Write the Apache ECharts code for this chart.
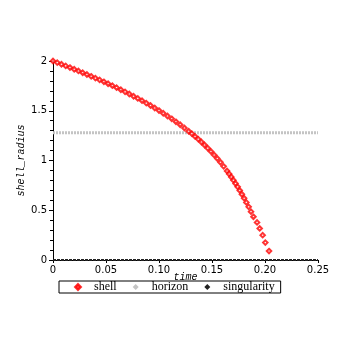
<!DOCTYPE html>
<html>
<head>
<meta charset="utf-8">
<script src="https://cdn.jsdelivr.net/npm/echarts@6/dist/echarts.min.js"></script>
<style>html,body{margin:0;padding:0;background:#fff;}#c{width:354px;height:354px;}</style>
</head>
<body>
<div id="c"></div>
<script>
const shellTime = [0.000,0.004,0.008,0.012,0.016,0.020,0.024,0.028,0.032,0.036,0.040,0.044,0.048,0.052,0.056,0.060,0.064,0.068,0.072,0.076,0.080,0.084,0.088,0.092,0.096,0.100,0.104,0.108,0.112,0.116,0.120,0.124,0.128,0.131,0.134,0.137,0.140,0.143,0.146,0.149,0.152,0.155,0.158,0.161,0.1642,0.1662,0.1682,0.1702,0.1722,0.1742,0.1762,0.1782,0.1803,0.1824,0.1846,0.1868,0.1891,0.1925,0.1950,0.1978,0.2003,0.2038];
const shellRadius = [2.000,1.984,1.967,1.951,1.934,1.917,1.900,1.882,1.864,1.846,1.828,1.810,1.791,1.771,1.752,1.732,1.711,1.690,1.668,1.646,1.624,1.601,1.577,1.553,1.528,1.502,1.475,1.447,1.419,1.389,1.359,1.327,1.294,1.270,1.242,1.215,1.186,1.156,1.124,1.091,1.056,1.020,0.982,0.941,0.895,0.865,0.834,0.802,0.769,0.735,0.699,0.661,0.621,0.579,0.534,0.486,0.434,0.378,0.317,0.250,0.175,0.090];
const horizonTime = [0, 0.25];
const horizonRadius = [1.28, 1.28];
const singularityTime = [0, 0.25];
const singularityRadius = [0, 0];
const xTicks = ['0','0.05','0.10','0.15','0.20','0.25'];
const yTicks = ['0','0.5','1','1.5','2'];
const seriesNames = ['shell','horizon','singularity'];

const zip = (a, b) => a.map((v, i) => [v, b[i]]);
const chart = echarts.init(document.getElementById('c'), null, {renderer: 'canvas'});
chart.setOption({
  backgroundColor: '#fff',
  animation: false,
  grid: {left: 53, right: 36, top: 61, bottom: 94, containLabel: false},
  xAxis: {
    type: 'value', min: 0, max: 0.25, interval: 0.05,
    name: 'time', nameLocation: 'middle', nameGap: 12, nameMoveOverlap: false,
    nameTextStyle: {fontFamily: 'Liberation Mono', fontStyle: 'italic', fontSize: 10, color: '#000'},
    axisLine: {show: true, onZero: false, lineStyle: {color: '#000', width: 1}},
    axisTick: {show: true, length: 3, lineStyle: {color: '#000'}},
    splitLine: {show: false},
    axisLabel: {fontFamily: 'DejaVu Sans', fontSize: 10, color: '#000', margin: 5,
      formatter: v => xTicks[Math.round(v / 0.05)]}
  },
  yAxis: {
    type: 'value', min: 0, max: 2, interval: 0.5,
    name: 'shell_radius', nameLocation: 'middle', nameGap: 27, nameRotate: 90, nameMoveOverlap: false,
    nameTextStyle: {fontFamily: 'Liberation Mono', fontStyle: 'italic', fontSize: 10, color: '#000'},
    axisLine: {show: true, lineStyle: {color: '#000', width: 1}},
    axisTick: {show: true, length: 4, lineStyle: {color: '#000'}},
    minorTick: {show: true, splitNumber: 5, length: 3, lineStyle: {color: '#000'}},
    splitLine: {show: false},
    axisLabel: {fontFamily: 'DejaVu Sans', fontSize: 10, color: '#000', margin: 6,
      formatter: v => yTicks[Math.round(v / 0.5)]}
  },
  legend: {
    left: 59, top: 281,
    orient: 'horizontal',
    padding: [0, 6, 0, 15],
    borderColor: '#000', borderWidth: 1,
    itemWidth: 6, itemHeight: 6, itemGap: 16,
    textStyle: {fontFamily: 'Liberation Serif', fontSize: 12, color: '#000', padding: [0, 0, 0, 8], lineHeight: 12},
    data: seriesNames.map(n => ({name: n, icon: 'diamond'}))
  },
  series: [
    {
      name: seriesNames[1], type: 'line', data: zip(horizonTime, horizonRadius),
      symbol: 'none', itemStyle: {color: '#c4c4c4'},
      lineStyle: {color: '#c4c4c4', width: 3, type: [2, 1]}, z: 2
    },
    {
      name: seriesNames[2], type: 'line', data: zip(singularityTime, singularityRadius),
      symbol: 'none', itemStyle: {color: '#222'},
      lineStyle: {color: '#222', width: 2, type: [3, 1]}, z: 3
    },
    {
      name: seriesNames[0], type: 'scatter', data: zip(shellTime, shellRadius),
      symbol: 'emptyDiamond', symbolSize: 4.5,
      itemStyle: {color: '#ff0000', borderColor: '#ff0000', borderWidth: 1}, z: 4
    }
  ]
});
</script>
</body>
</html>
